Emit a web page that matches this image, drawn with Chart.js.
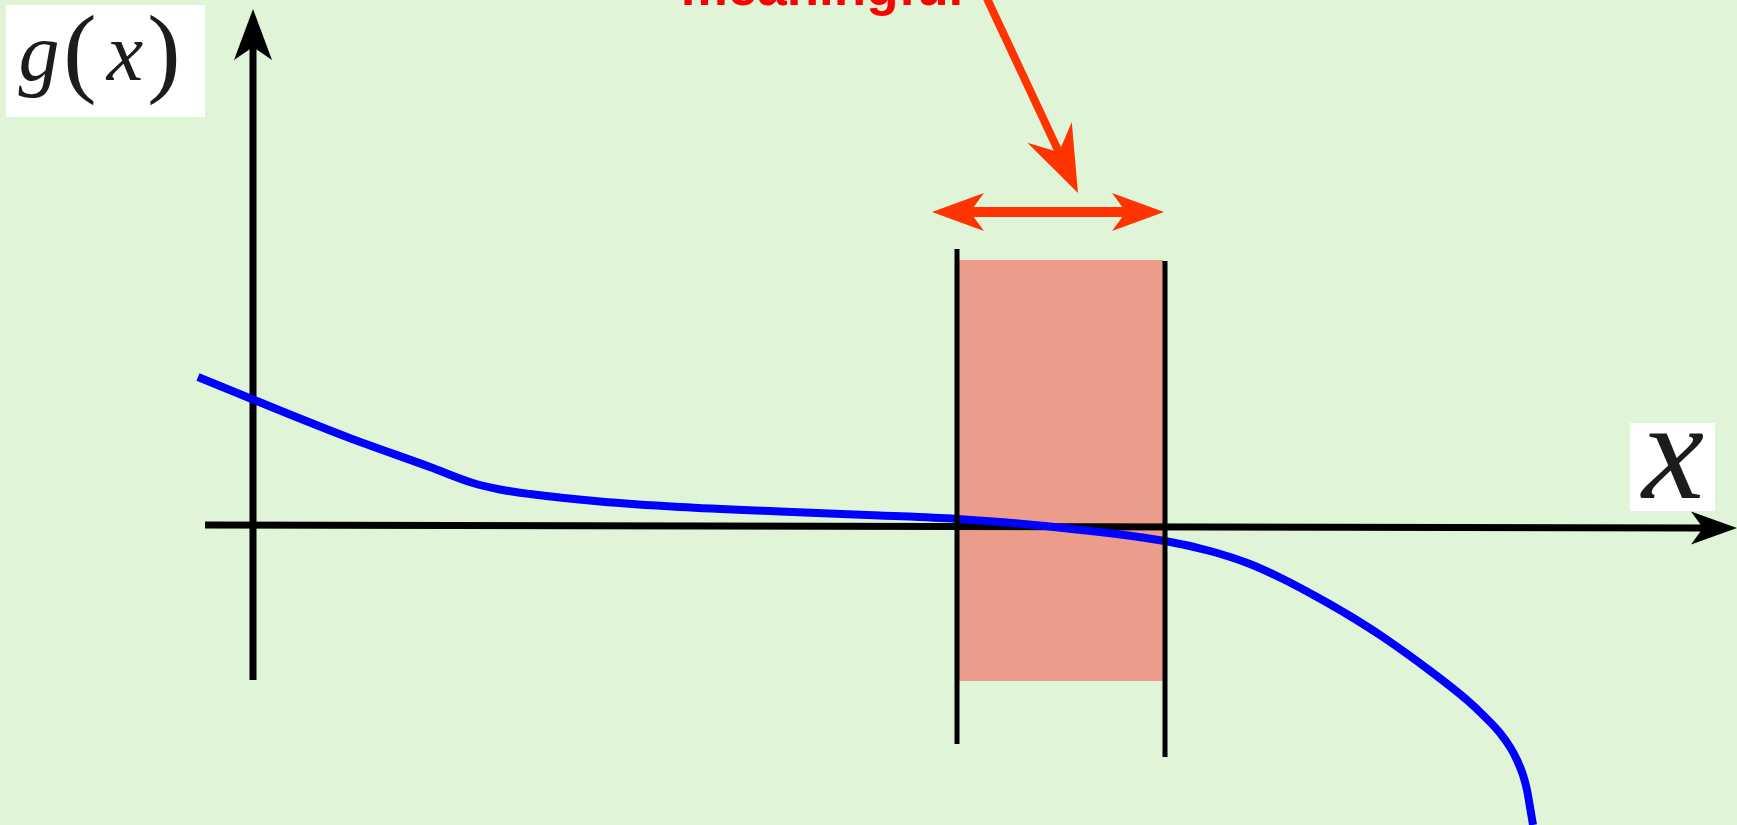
<!DOCTYPE html>
<html><head><meta charset="utf-8">
<script src="https://cdn.jsdelivr.net/npm/chart.js@4/dist/chart.umd.min.js"></script>
<style>html,body{margin:0;padding:0;background:#e0f5d8;overflow:hidden}#wrap{position:relative;width:1737px;height:825px}</style>
</head><body><div id="wrap"><canvas id="c"></canvas></div>
<script>
// ---- data (diagram units: origin at axes crossing) ----
const curveX = [-0.55, 0, 0.94, 1.77, 2.20, 2.47, 2.77, 3.47, 4.27, 5.27, 6.27, 7.04, 7.97, 9.12, 9.57, 9.97, 10.30, 10.64, 10.97, 11.30, 11.80, 12.14, 12.30, 12.47, 12.57, 12.64, 12.70, 12.74, 12.77, 12.80];
const curveG = [1.48, 1.255, 0.88, 0.58, 0.42, 0.355, 0.31, 0.235, 0.18, 0.135, 0.095, 0.06, -0.015, -0.16, -0.26, -0.39, -0.54, -0.72, -0.91, -1.12, -1.48, -1.75, -1.90, -2.08, -2.22, -2.35, -2.50, -2.65, -2.82, -3.00];
const xAxisX = [-0.48, 14.50];
const xAxisG = [0, -0.03];
const xAxisTip = [14.84, -0.03];
const yAxisX = [0, 0];
const yAxisG = [-1.55, 4.78];
const yAxisTip = [0, 5.16];
const boundLeftX = [7.04, 7.04];
const boundLeftG = [2.76, -2.19];
const boundRightX = [9.12, 9.12];
const boundRightG = [2.64, -2.32];
const bandX = [7.06, 9.10];
const bandG = [-1.56, 2.65];
const widthArrowX = [6.79, 9.11];
const widthArrowG = [3.13, 3.13];
const pointerX = [7.30, 8.25];
const pointerG = [5.35, 3.32];
const noteText = 'meaningful';
const noteAt = [5.69, 5.20];
const yLabelBox = [-2.47, 5.20, -0.48, 4.08];
const xLabelBox = [13.77, 1.02, 14.62, 0.14];

const pts = (xs, gs) => xs.map((x, i) => ({x, y: gs[i]}));

function head(ctx, tip, ux, uy, L, W, N, color) {
  const px = -uy, py = ux;
  ctx.beginPath();
  ctx.moveTo(tip[0], tip[1]);
  ctx.lineTo(tip[0] - ux * L + px * W, tip[1] - uy * L + py * W);
  ctx.lineTo(tip[0] - ux * N, tip[1] - uy * N);
  ctx.lineTo(tip[0] - ux * L - px * W, tip[1] - uy * L - py * W);
  ctx.closePath();
  ctx.fillStyle = color;
  ctx.fill();
}
function dir(a, b) { const dx = b[0] - a[0], dy = b[1] - a[1]; const d = Math.hypot(dx, dy); return [dx / d, dy / d]; }

const deco = {
  id: 'deco',
  beforeDraw(chart) {
    const ctx = chart.ctx;
    ctx.save(); ctx.fillStyle = '#e0f5d8'; ctx.fillRect(0, 0, chart.width, chart.height); ctx.restore();
  },
  beforeDatasetsDraw(chart) {
    const {ctx, scales: {x, y}} = chart;
    const x0 = x.getPixelForValue(bandX[0]), x1 = x.getPixelForValue(bandX[1]);
    const y0 = y.getPixelForValue(bandG[1]), y1 = y.getPixelForValue(bandG[0]);
    ctx.save(); ctx.fillStyle = '#eb9c8a'; ctx.fillRect(x0, y0, x1 - x0, y1 - y0); ctx.restore();
  },
  afterDatasetsDraw(chart) {
    const {ctx, scales: {x, y}} = chart;
    const P = (a, b) => [x.getPixelForValue(a), y.getPixelForValue(b)];
    ctx.save();
    // axis arrowheads
    let t = P(yAxisTip[0], yAxisTip[1]); let n = P(yAxisX[1], yAxisG[1]); let u = dir(n, t);
    head(ctx, t, u[0], u[1], 51, 19, Math.hypot(t[0] - n[0], t[1] - n[1]), '#000');
    t = P(xAxisTip[0], xAxisTip[1]); n = P(xAxisX[1], xAxisG[1]); u = dir(n, t);
    head(ctx, t, u[0], u[1], 46, 16.5, Math.hypot(t[0] - n[0], t[1] - n[1]), '#000');
    // double arrow
    const red = '#ff3300';
    const a = P(widthArrowX[0], widthArrowG[0]), b = P(widthArrowX[1], widthArrowG[1]);
    u = dir(a, b);
    ctx.strokeStyle = red; ctx.lineWidth = 10; ctx.lineCap = 'butt';
    ctx.beginPath(); ctx.moveTo(a[0] + u[0] * 36, a[1] + u[1] * 36); ctx.lineTo(b[0] - u[0] * 36, b[1] - u[1] * 36); ctx.stroke();
    head(ctx, b, u[0], u[1], 52, 19, 38, red);
    head(ctx, a, -u[0], -u[1], 52, 19, 38, red);
    // pointer arrow
    const s = P(pointerX[0], pointerG[0]), e = P(pointerX[1], pointerG[1]);
    u = dir(s, e);
    ctx.lineWidth = 8;
    ctx.beginPath(); ctx.moveTo(s[0], s[1]); ctx.lineTo(e[0] - u[0] * 43, e[1] - u[1] * 43); ctx.stroke();
    head(ctx, e, u[0], u[1], 67, 24.5, 45, red);
    // note text
    const np = P(noteAt[0], noteAt[1]);
    ctx.fillStyle = '#ff0000'; ctx.font = 'bold 53px "Liberation Sans", Arial, sans-serif';
    ctx.textAlign = 'center'; ctx.textBaseline = 'alphabetic';
    ctx.fillText(noteText, np[0], np[1]);
    // label boxes
    let p0 = P(yLabelBox[0], yLabelBox[1]), p1 = P(yLabelBox[2], yLabelBox[3]);
    ctx.fillStyle = '#ffffff'; ctx.fillRect(p0[0], p0[1], p1[0] - p0[0], p1[1] - p0[1]);
    ctx.fillStyle = '#1c1c1c';
    ctx.font = 'italic 82px "Liberation Serif", "DejaVu Serif", serif';
    ctx.fillText('g', p0[0] + 33, p0[1] + 75);
    ctx.fillText('x', p0[0] + 119, p0[1] + 75);
    ctx.font = '100px "Liberation Serif", "DejaVu Serif", serif';
    ctx.fillText('(', p0[0] + 74, p0[1] + 79);
    ctx.fillText(')', p0[0] + 158, p0[1] + 79);
    p0 = P(xLabelBox[0], xLabelBox[1]); p1 = P(xLabelBox[2], xLabelBox[3]);
    ctx.fillStyle = '#ffffff'; ctx.fillRect(p0[0], p0[1], p1[0] - p0[0], p1[1] - p0[1]);
    ctx.fillStyle = '#1c1c1c';
    ctx.font = 'italic 140px "Liberation Serif", "DejaVu Serif", serif';
    ctx.fillText('x', p0[0] + 43, p0[1] + 75);
    ctx.restore();
  }
};

const lineDs = (data, color, width, order) => ({
  data, borderColor: color, borderWidth: width, showLine: true, pointRadius: 0,
  borderCapStyle: 'butt', fill: false, order
});

new Chart(document.getElementById('c'), {
  type: 'scatter',
  data: {
    datasets: [
      lineDs(pts(boundLeftX, boundLeftG), '#000', 5, 0),
      lineDs(pts(boundRightX, boundRightG), '#000', 5, 0),
      Object.assign(lineDs(pts(curveX, curveG), '#0000ff', 8, 1), {cubicInterpolationMode: 'monotone'}),
      lineDs(pts(xAxisX, xAxisG), '#000', 7, 2),
      lineDs(pts(yAxisX, yAxisG), '#000', 7, 2)
    ]
  },
  options: {
    responsive: true, maintainAspectRatio: false, animation: false,
    layout: {padding: 0},
    plugins: {legend: {display: false}, tooltip: {enabled: false}},
    scales: {
      x: {type: 'linear', min: -2.53, max: 14.84, display: false},
      y: {type: 'linear', min: -3.00, max: 5.25, display: false}
    }
  },
  plugins: [deco]
});
</script></body></html>
